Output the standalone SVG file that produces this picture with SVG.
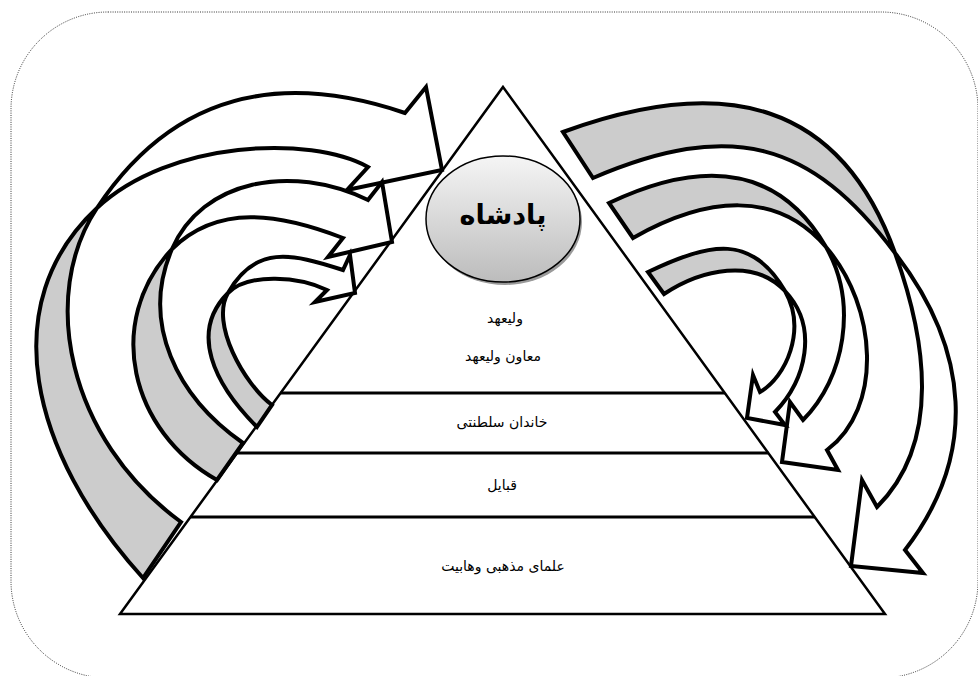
<svg xmlns="http://www.w3.org/2000/svg" width="978" height="676" viewBox="0 0 978 676">
<defs>
<linearGradient id="kingGrad" x1="0" y1="0" x2="0" y2="1">
<stop offset="0" stop-color="#f5f5f5"/>
<stop offset="1" stop-color="#bcbcbc"/>
</linearGradient>
<style>
.frame{fill:none;stroke:#000;stroke-width:0.8;stroke-dasharray:1 1.3}
.tri{fill:#fff;stroke:#000;stroke-width:2.5;stroke-linejoin:miter}
.div{stroke:#000;stroke-width:3}
.back{fill:#cccccc;stroke:none}
.front{fill:#fff;stroke:none}
.outline{fill:none;stroke:#000;stroke-width:4;stroke-linejoin:miter;stroke-miterlimit:6}
.lbl{font-family:'DejaVu Sans',sans-serif;font-size:14px;fill:#000;text-anchor:middle}
.king{font-family:'DejaVu Sans',sans-serif;font-size:27px;font-weight:bold;fill:#000;text-anchor:middle}
</style>
</defs>
<rect width="978" height="676" fill="#fff"/>
<g id="frame">
<rect class="frame" x="11" y="12" width="967" height="666" rx="97" ry="97"/>
</g>
<g id="pyramid">
<path class="tri" d="M503,87 L885,614 L120,614 Z"/>
<line class="div" x1="280.6" y1="393" x2="724.8" y2="393"/>
<line class="div" x1="237" y1="453" x2="768.3" y2="453"/>
<line class="div" x1="190.5" y1="517" x2="814.7" y2="517"/>
</g>
<g id="node-king">
<ellipse cx="505" cy="222" rx="77" ry="63" fill="#9a9a9a"/>
<ellipse cx="503" cy="219" rx="77" ry="63" fill="url(#kingGrad)" stroke="#000" stroke-width="1.5"/>
<text class="king" x="503" y="224">پادشاه</text>
</g>
<g id="level-1">
<text class="lbl" x="505" y="323">ولیعهد</text>
<text class="lbl" x="503" y="361">معاون ولیعهد</text>
</g>
<g id="level-2">
<text class="lbl" x="502" y="427">خاندان سلطنتی</text>
</g>
<g id="level-3">
<text class="lbl" x="502" y="490">قبایل</text>
</g>
<g id="level-4">
<text class="lbl" x="503" y="571">علمای مذهبی وهابیت</text>
</g>
<g id="connectors">
<g id="arrow-left-1">
<path class="back" d="M97,208 C39,295 67,439 181,522 L143,578 C29,452 -5,303 97,208 Z"/>
<path class="front" d="M97,208 C174,92 281,71 405,113 L426,87 L442,170 L347,190 L368,167 C310,135 170,140 97,208 Z"/>
<path class="outline" d="M181,522 C67,439 39,295 97,208 C174,92 281,71 405,113 L426,87 L442,170 L347,190 L368,167 C310,135 170,140 97,208 C-5,303 29,452 143,578 Z"/>
</g>
<g id="arrow-left-2">
<path class="back" d="M172,249 C140,323 177,397 243,443 L217,480 C130,431 104,322 172,249 Z"/>
<path class="front" d="M172,249 C202,180 291,163 368,200 L382,182 L392,242 L328,257 L343,238 C278,213 218,204 172,249 Z"/>
<path class="outline" d="M243,443 C177,397 140,323 172,249 C202,180 291,163 368,200 L382,182 L392,242 L328,257 L343,238 C278,213 218,204 172,249 C104,322 130,431 217,480 Z"/>
</g>
<g id="arrow-left-3">
<path class="back" d="M228,293 C210,323 244,384 272,405 L257,427 C214,384 189,332 228,293 Z"/>
<path class="front" d="M228,293 C255,245 291,253 343,270 L350,255 L355,293 L315,302 L327,290 C300,277 249,272 228,293 Z"/>
<path class="outline" d="M272,405 C244,384 210,323 228,293 C255,245 291,253 343,270 L350,255 L355,293 L315,302 L327,290 C300,277 249,272 228,293 C189,332 214,384 257,427 Z"/>
</g>
<g id="arrow-right-1">
<path class="back" d="M895,253 C841,103 727,72 563,132 L593,178 C731,119 811,141 895,253 Z"/>
<path class="front" d="M895,253 C926,339 942,442 877,507 L862,480 L851,566 L923,573 L905,550 C979,454 969,349 895,253 Z"/>
<path class="outline" d="M563,132 C727,72 841,103 895,253 C926,339 942,442 877,507 L862,480 L851,566 L923,573 L905,550 C979,454 969,349 895,253 C811,141 731,119 593,178 Z"/>
</g>
<g id="arrow-right-2">
<path class="back" d="M826,247 C781,169 708,156 609,203 L633,238 C707,196 777,190 826,247 Z"/>
<path class="front" d="M826,247 C858,303 845,378 803,420 L790,402 L782,462 L838,470 L827,450 C883,408 878,308 826,247 Z"/>
<path class="outline" d="M609,203 C708,156 781,169 826,247 C858,303 845,378 803,420 L790,402 L782,462 L838,470 L827,450 C883,408 878,308 826,247 C777,190 707,196 633,238 Z"/>
</g>
<g id="arrow-right-3">
<path class="back" d="M785,291 C752,234 711,242 648,272 L664,294 C702,269 754,258 785,291 Z"/>
<path class="front" d="M785,291 C807,330 786,377 760,392 L753,375 L747,418 L785,425 L775,412 C806,380 819,327 785,291 Z"/>
<path class="outline" d="M648,272 C711,242 752,234 785,291 C807,330 786,377 760,392 L753,375 L747,418 L785,425 L775,412 C806,380 819,327 785,291 C754,258 702,269 664,294 Z"/>
</g>
</g>
</svg>
